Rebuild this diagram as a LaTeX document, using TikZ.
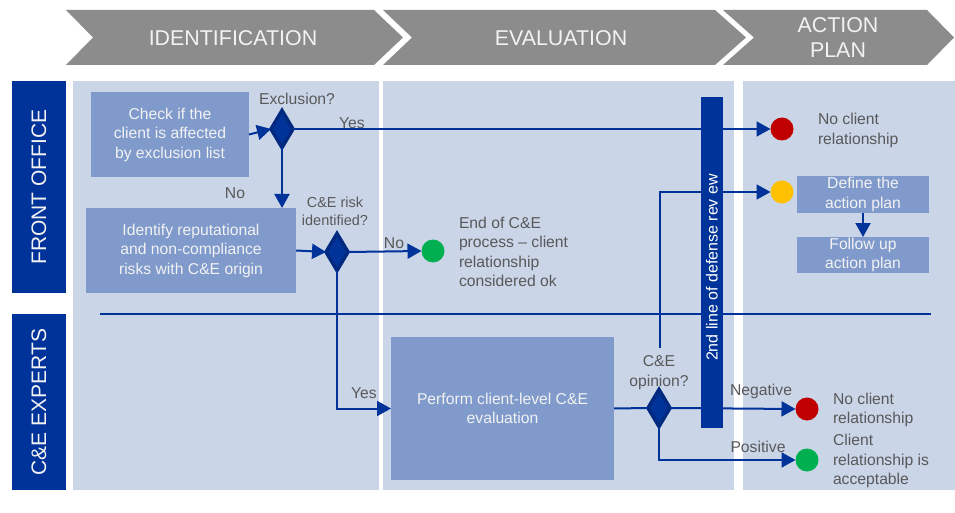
\documentclass[tikz,border=0pt]{standalone}
\usepackage{fontspec}
\setmainfont{Liberation Sans}
\usetikzlibrary{shapes.geometric,arrows.meta}
\definecolor{navy}{HTML}{003399}
\definecolor{navydark}{HTML}{00297F}
\definecolor{panelbg}{HTML}{CAD5E8}
\definecolor{boxfill}{HTML}{7F9ACB}
\definecolor{labgray}{HTML}{595959}
\definecolor{headgray}{HTML}{8C8C8C}
\definecolor{headwhite}{HTML}{F2F2F2}
\definecolor{cred}{HTML}{C00000}
\definecolor{cyellow}{HTML}{FFC000}
\definecolor{cgreen}{HTML}{00B050}
\begin{document}
\begin{tikzpicture}[x=1pt,y=-1pt,
  every node/.style={inner sep=0pt, outer sep=0pt},
  procbox/.style={rectangle, fill=boxfill, text=headwhite, align=center, font=\fontsize{15.7}{19.5}\selectfont},
  decision/.style={diamond, fill=navy, draw=navydark, line width=3.5pt, minimum width=22pt, minimum height=37pt},
  endpt/.style={circle, minimum size=23pt},
  lbl/.style={text=labgray, align=center, font=\fontsize{15.7}{19.5}\selectfont},
  sidetxt/.style={lbl, align=left, anchor=west},
  flow/.style={draw=navy, line width=2pt},
  flowarr/.style={flow, -{Triangle[length=14pt,width=15pt]}},
  lanebox/.style={fill=navy, text=headwhite, rotate=90, font=\fontsize{21}{25}\selectfont},
  headtext/.style={text=headwhite, align=center, font=\fontsize{21.4}{25}\selectfont},
  panel/.style={fill=panelbg, anchor=north west}
]
\useasboundingbox (0,0) rectangle (955,513);
\fill[white] (0,0) rectangle (955,513);

% header chevrons
\fill[headgray] (66,10)--(374,10)--(403,37.5)--(374,65)--(66,65)--(93,37.5)--cycle;
\fill[headgray] (383,10)--(715,10)--(746,37.5)--(715,65)--(383,65)--(412,37.5)--cycle;
\fill[headgray] (723,10)--(927,10)--(954,37.5)--(927,65)--(723,65)--(754,37.5)--cycle;
\node[headtext] (h1) at (233,38) {IDENTIFICATION};
\node[headtext] (h2) at (561,38) {EVALUATION};
\node[headtext] (h3) at (838,37.5) {ACTION\\PLAN};

% panels
\node[panel, minimum width=306pt, minimum height=409pt] (p1) at (73,81) {};
\node[panel, minimum width=351pt, minimum height=409pt] (p2) at (383,81) {};
\node[panel, minimum width=212pt, minimum height=409pt] (p3) at (743,81) {};

% lanes
\node[lanebox, minimum width=212pt, minimum height=54pt] (fo) at (39,187) {FRONT OFFICE};
\node[lanebox, minimum width=176pt, minimum height=54pt] (ce) at (39,402) {C\&E EXPERTS};

% lane separator
\coordinate (s1) at (100,314);
\coordinate (s2) at (931,314);
\draw[flow] (s1) -- (s2);

% process boxes
\node[procbox, minimum width=158pt, minimum height=85pt] (b1) at (170,134.5) {Check if the\\client is affected\\by exclusion list};
\node[procbox, minimum width=210pt, minimum height=85pt] (b2) at (191,250.5) {Identify reputational\\and non-compliance\\risks with C\&E origin};
\node[procbox, minimum width=223pt, minimum height=143pt] (b3) at (502.5,408.5) {Perform client-level C\&E\\evaluation};
\node[procbox, minimum width=132pt, minimum height=37pt] (b4) at (863,194.5) {Define the\\action plan};
\node[procbox, minimum width=132pt, minimum height=36pt] (b5) at (863,255) {Follow up\\action plan};

% decisions
\node[decision] (d1) at (282,129) {};
\node[decision] (d2) at (337,252) {};
\node[decision] (d3) at (659,408) {};

% end points
\node[endpt, fill=cred] (r1) at (782,129) {};
\node[endpt, fill=cyellow] (y1) at (782,192) {};
\node[endpt, fill=cgreen] (g1) at (433,251) {};
\node[endpt, fill=cred] (r2) at (807,409) {};
\node[endpt, fill=cgreen] (g2) at (807,460) {};

% labels
\node[lbl] (lx) at (297,99) {Exclusion?};
\node[lbl] (ly1) at (352,123) {Yes};
\node[lbl] (ln1) at (235,193) {No};
\node[lbl, font=\fontsize{14.5}{18}\selectfont] (lr) at (335,211) {C\&E risk\\identified?};
\node[lbl] (ln2) at (394,243) {No};
\node[sidetxt] (te) at (459,252) {End of C\&E\\process – client\\relationship\\considered ok};
\node[sidetxt] (tn1) at (818,130.5) {No client\\relationship};
\node[lbl] (lo) at (659,372.5) {C\&E\\opinion?};
\node[lbl] (ly2) at (364,393) {Yes};
\node[lbl] (lneg) at (761,391) {Negative};
\node[lbl] (lpos) at (758,447) {Positive};
\node[sidetxt] (tn2) at (833,410) {No client\\relationship};
\node[sidetxt] (tacc) at (833,461) {Client\\relationship is\\acceptable};

% connectors
\draw[flowarr] (b1.east) -- (d1.west);
\draw[flowarr] (d1.east) -- (r1.west);
\draw[flowarr] (d1.south) -- (d1.south |- b2.north);
\draw[flowarr] (b2.east) -- (d2.west);
\draw[flowarr] (d2.east) -- (g1.west);
\draw[flowarr] (d2.south) |- (b3.west);
\draw[flow] (b3.east) -- (d3.west);
\draw[flowarr] (d3.east) -- (r2.west);
\draw[flowarr] (d3.south) |- (g2.west);
\coordinate (c1) at (660,348);
\draw[flowarr] (c1) |- (y1.west);
\draw[flowarr] (b4.south) -- (b5.north);

% 2nd line of defense bar
\node[fill=navy, minimum width=22pt, minimum height=331pt] (bar) at (712,262.5) {};
\node[text=white, rotate=90, font=\fontsize{16}{19}\selectfont] (bartxt) at (712,267.5) {2nd line of defense rev ew};
\end{tikzpicture}
\end{document}
